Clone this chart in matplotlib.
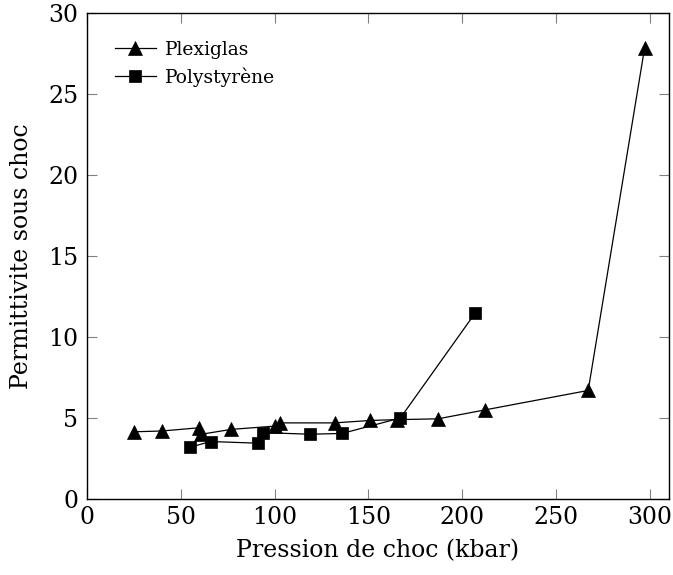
import matplotlib
matplotlib.use('Agg')
import matplotlib.pyplot as plt

# data
plexi_x = [25, 40, 60, 61, 77, 100, 103, 132, 151, 165, 187, 212, 267, 297]
plexi_y = [4.15, 4.2, 4.4, 4.0, 4.3, 4.5, 4.7, 4.7, 4.85, 4.9, 4.95, 5.5, 6.7, 27.8]
poly_x = [55, 66, 91, 94, 119, 136, 167, 207]
poly_y = [3.2, 3.55, 3.45, 4.1, 4.0, 4.05, 5.0, 11.5]

xticks = [0, 50, 100, 150, 200, 250, 300]
yticks = [0, 5, 10, 15, 20, 25, 30]

plt.rcParams['font.family'] = ['DejaVu Serif']

fig = plt.figure(figsize=(6.73, 5.75), dpi=100)
ax = fig.add_axes([0.1288, 0.132, 0.8652, 0.846])

ax.plot(plexi_x, plexi_y, color='black', lw=0.9, marker='^', ms=10,
        mec='black', mfc='black', mew=0.5, label='Plexiglas')
ax.plot(poly_x, poly_y, color='black', lw=0.9, marker='s', ms=8.4,
        mec='black', mfc='black', mew=0.5, label='Polystyrène')

ax.set_xlim(0, 310)
ax.set_ylim(0, 30)
ax.set_xticks(xticks)
ax.set_yticks(yticks)
ax.tick_params(direction='in', length=7.5, width=0.8, color='#808080',
               labelsize=17, top=True, right=True)
ax.tick_params(axis='x', pad=5)
ax.tick_params(axis='y', pad=6)
for s in ax.spines.values():
    s.set_linewidth(1.0)

ax.set_xlabel('Pression de choc (kbar)', fontsize=17, labelpad=7)
ax.set_ylabel('Permittivite sous choc', fontsize=17, labelpad=11)

ax.legend(loc='upper left', frameon=False, fontsize=13.5, handlelength=2.2,
          handletextpad=0.5, borderaxespad=1.1, labelspacing=0.45)

fig.savefig('out.png', dpi=100)
